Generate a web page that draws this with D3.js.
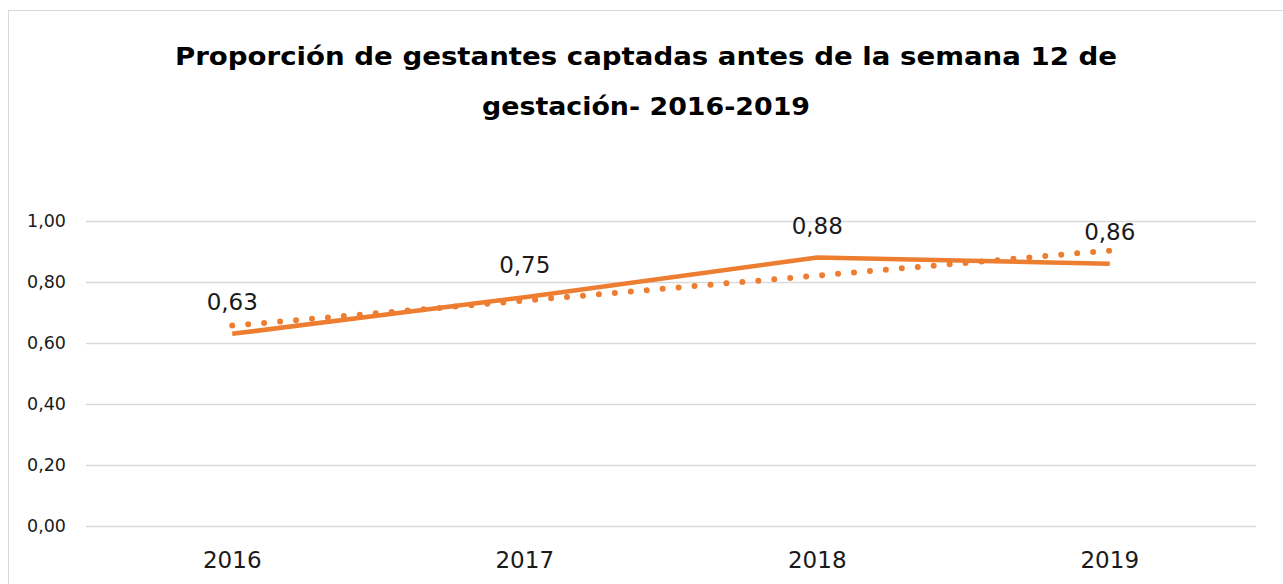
<!DOCTYPE html>
<html>
<head>
<meta charset="utf-8">
<script src="https://cdnjs.cloudflare.com/ajax/libs/d3/7.8.5/d3.min.js"></script>
<style>
  body { margin: 0; background: #fff; }
  svg { display: block; font-family: 'Century Gothic', 'DejaVu Sans', sans-serif; }
</style>
</head>
<body>
<script>
let years = ['2016', '2017', '2018', '2019'],
    values = [0.63, 0.75, 0.88, 0.86],
    trendEnds = [0.657, 0.903],
    yTicks = [0, 0.2, 0.4, 0.6, 0.8, 1.0],
    titleLines = ['Proporción de gestantes captadas antes de la semana 12 de', 'gestación- 2016-2019'];

let w = 1283, h = 584;
let orange = '#ED7D31';

let svg = d3.select('body')
  .append('svg')
  .attr('width', w)
  .attr('height', h);

// chart area border (runs off the right and bottom edges)
svg.append('rect')
  .attr('x', 8.5).attr('y', 10.5)
  .attr('width', w).attr('height', h)
  .attr('fill', '#fff')
  .attr('stroke', '#d9d9d9');

let titleW = [942, 328];
svg.selectAll('.title')
  .data(titleLines)
  .enter()
  .append('text')
  .attr('class', 'title')
  .attr('x', 646)
  .attr('y', (d, i) => 65 + i * 50)
  .attr('text-anchor', 'middle')
  .attr('textLength', (d, i) => titleW[i])
  .attr('lengthAdjust', 'spacingAndGlyphs')
  .style('font-size', '24px')
  .style('font-weight', 'bold')
  .attr('fill', '#000')
  .text(d => d);

let xScale = d3.scaleBand()
  .domain(years)
  .range([86, 1256]);

let yScale = d3.scaleLinear()
  .domain([0, 1])
  .range([526, 221]);

let fmt = v => d3.format('.2f')(v).replace('.', ',');

// gridlines + y axis labels
let yAxis = svg.append('g')
  .attr('transform', 'translate(86,0)')
  .call(d3.axisLeft(yScale).tickValues(yTicks).tickSize(-1170).tickPadding(20).tickFormat(fmt))
  .attr('font-family', null)
  .attr('font-size', null);
yAxis.select('.domain').remove();
yAxis.selectAll('line').attr('stroke', '#d9d9d9').attr('stroke-width', 1.5);
yAxis.selectAll('text').style('font-size', '17.5px').attr('fill', '#1a1a1a');

let xAxis = svg.append('g')
  .attr('transform', 'translate(0,526)')
  .call(d3.axisBottom(xScale).tickSize(0).tickPadding(26))
  .attr('font-family', null)
  .attr('font-size', null);
xAxis.select('.domain').remove();
xAxis.selectAll('text').style('font-size', '23px').attr('fill', '#1a1a1a');

let cx = d => xScale(d) + xScale.bandwidth() / 2;

// linear trendline
svg.append('line')
  .attr('x1', cx(years[0])).attr('y1', yScale(trendEnds[0]))
  .attr('x2', cx(years[years.length - 1])).attr('y2', yScale(trendEnds[1]))
  .attr('stroke', orange)
  .attr('stroke-width', 6)
  .attr('stroke-linecap', 'round')
  .attr('stroke-dasharray', '0 16');

let line = d3.line()
  .x((d, i) => cx(years[i]))
  .y(d => yScale(d));

svg.append('path')
  .datum(values)
  .attr('d', line)
  .attr('fill', 'none')
  .attr('stroke', orange)
  .attr('stroke-width', 4.5)
  .attr('stroke-linejoin', 'round');

svg.selectAll('.lbl')
  .data(values)
  .enter()
  .append('text')
  .attr('class', 'lbl')
  .attr('x', (d, i) => cx(years[i]))
  .attr('y', d => yScale(d) - 24)
  .attr('text-anchor', 'middle')
  .style('font-size', '23px')
  .attr('fill', '#1a1a1a')
  .text(d => fmt(d));
</script>
</body>
</html>
